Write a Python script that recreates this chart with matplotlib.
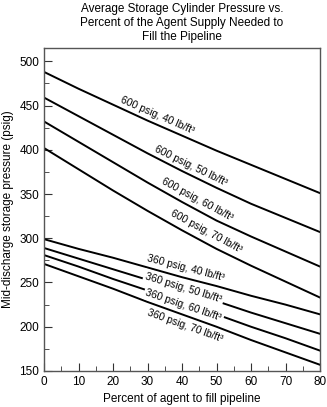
import numpy as np
import matplotlib
matplotlib.use('Agg')
import matplotlib.pyplot as plt

plt.rcParams['font.family'] = ['Liberation Sans', 'DejaVu Sans']

# percent of agent to fill pipeline
pct = [0, 10, 20, 30, 40, 50, 60, 70, 80]

# mid-discharge storage pressure (psig)
p600_40 = [488, 469, 451, 433, 416, 399, 383, 367, 351]
p600_50 = [459, 438, 417, 396, 376, 357, 339, 323, 307]
p600_60 = [432, 409, 386, 363, 341, 320, 302, 285, 268]
p600_70 = [402, 378, 354, 331, 309, 288, 269, 251, 233]
p360_40 = [299, 288, 278, 267, 256, 246, 235, 225, 214]
p360_50 = [289, 277, 265, 253, 241, 229, 216, 204, 192]
p360_60 = [281, 268, 254, 241, 227, 214, 200, 187, 173]
p360_70 = [271, 257, 243, 228, 214, 200, 185, 171, 157]

series = [p600_40, p600_50, p600_60, p600_70, p360_40, p360_50, p360_60, p360_70]
names = ['600 psig, 40 lb/ft³', '600 psig, 50 lb/ft³', '600 psig, 60 lb/ft³',
         '600 psig, 70 lb/ft³', '360 psig, 40 lb/ft³', '360 psig, 50 lb/ft³',
         '360 psig, 60 lb/ft³', '360 psig, 70 lb/ft³']
# label x position and offset from line (psig); inline = white box over line
lab_x = [33, 42.5, 44.5, 47, 41, 40.5, 40.5, 41]
lab_off = [11, 11, 12, 13, 11, 4, -2, -12]
inline = [False, False, False, False, False, True, True, False]

fig = plt.figure(figsize=(3.27, 4.07), dpi=100)
ax = fig.add_axes([0.1346, 0.0885, 0.844, 0.7935])

for vals, name, lx, off, inl in zip(series, names, lab_x, lab_off, inline):
    ax.plot(pct, vals, color='black', lw=1.4, zorder=2)
    ly = np.interp(lx, pct, vals)
    slope = (np.interp(lx + 1, pct, vals) - np.interp(lx - 1, pct, vals)) / 2
    ang = np.degrees(np.arctan(slope))
    kw = {}
    if inl:
        kw['bbox'] = dict(fc='white', ec='none', pad=1.5)
    ax.text(lx, ly + off, name, fontsize=7.5, ha='center', va='center',
            rotation=ang, rotation_mode='anchor', transform_rotates_text=True,
            zorder=3, **kw)

ax.set_xlim(0, 80)
ax.set_ylim(150, 515)
ax.set_xticks(range(0, 81, 10))
ax.set_xticks(range(0, 81, 5), minor=True)
ax.set_yticks(range(150, 501, 50))
ax.set_yticks(range(150, 501, 25), minor=True)
ax.tick_params(which='both', direction='in', labelsize=8.5, color='#333')
ax.tick_params(which='major', length=6)
ax.tick_params(which='minor', length=3.5)
for s in ax.spines.values():
    s.set_color('#555')
    s.set_linewidth(1.0)

ax.set_xlabel('Percent of agent to fill pipeline', fontsize=8.5)
ax.set_ylabel('Mid-discharge storage pressure (psig)', fontsize=8.5)
ax.set_title('Average Storage Cylinder Pressure vs.\nPercent of the Agent Supply Needed to\nFill the Pipeline',
             fontsize=8.5, pad=6)

fig.savefig('out.png', dpi=100)
